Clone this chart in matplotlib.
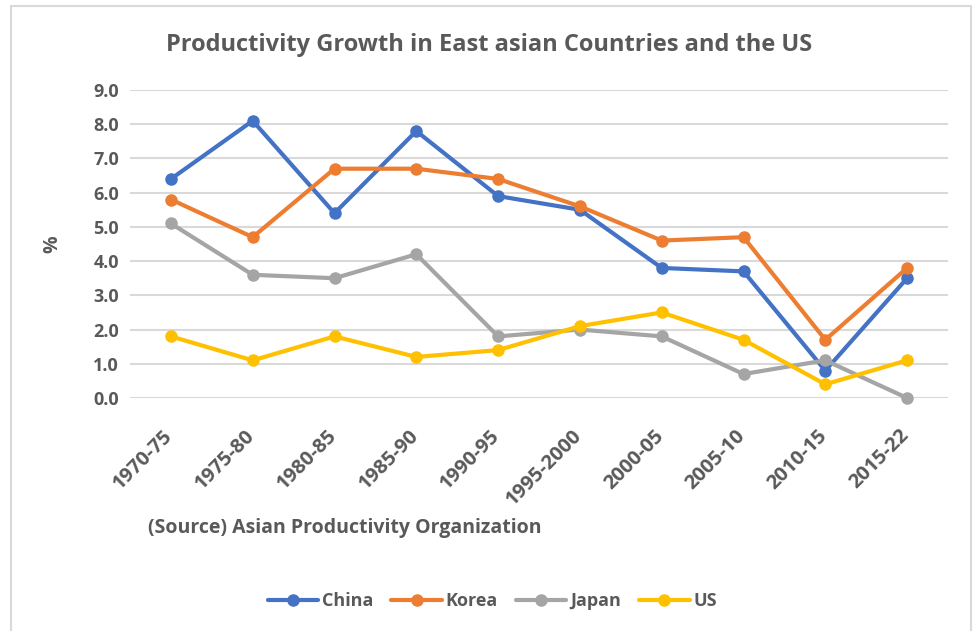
import matplotlib.pyplot as plt
import matplotlib.transforms as mtransforms
from matplotlib.patches import Rectangle

periods = ['1970-75', '1975-80', '1980-85', '1985-90', '1990-95',
           '1995-2000', '2000-05', '2005-10', '2010-15', '2015-22']
china = [6.4, 8.1, 5.4, 7.8, 5.9, 5.5, 3.8, 3.7, 0.8, 3.5]
korea = [5.8, 4.7, 6.7, 6.7, 6.4, 5.6, 4.6, 4.7, 1.7, 3.8]
japan = [5.1, 3.6, 3.5, 4.2, 1.8, 2.0, 1.8, 0.7, 1.1, 0.0]
us    = [1.8, 1.1, 1.8, 1.2, 1.4, 2.1, 2.5, 1.7, 0.4, 1.1]
yticks = [0, 1, 2, 3, 4, 5, 6, 7, 8, 9]

plt.rcParams['font.family'] = ['Open Sans', 'DejaVu Sans']
txt = '#595959'

fig = plt.figure(figsize=(9.73, 6.31), dpi=100)
# light frame round the chart area
fig.patches.append(Rectangle((11/973, -0.01), 960/973, 1 - 6/631 + 0.01,
                             transform=fig.transFigure, fill=False,
                             edgecolor='#D9D9D9', linewidth=1.5))
ax = fig.add_axes([130/973, 1 - 398/631, 818/973, 308/631])

series = [('China', china, '#4472C4'), ('Korea', korea, '#ED7D31'),
          ('Japan', japan, '#A5A5A5'), ('US', us, '#FFC000')]
x = range(len(periods))
for name, vals, col in series:
    ax.plot(x, vals, color=col, lw=3, marker='o', ms=8, label=name,
            solid_capstyle='round', clip_on=False, zorder=3)

ax.set_xlim(-0.5, len(periods) - 0.5)
ax.set_ylim(0, 9)
ax.set_yticks(yticks)
ax.set_yticklabels([f'{v:.1f}' for v in yticks])
ax.set_xticks(list(x))
ax.set_xticklabels(periods, rotation=45, ha='right', va='center',
                   rotation_mode='anchor')
ax.tick_params(length=0, labelsize=13, labelcolor=txt)
ax.tick_params(axis='y', pad=8)
ax.tick_params(axis='x', pad=25, labelsize=14.5)
shift = mtransforms.ScaledTranslation(-1/100, 0, fig.dpi_scale_trans)
for lab in ax.get_xticklabels():
    lab.set_transform(lab.get_transform() + shift)
for lab in ax.get_xticklabels() + ax.get_yticklabels():
    lab.set_fontweight('bold')
ax.yaxis.grid(True, color='#D9D9D9', lw=1.5)
ax.set_axisbelow(True)
for s in ax.spines.values():
    s.set_visible(False)

ax.set_ylabel('%', fontsize=14, fontweight='bold', color=txt, labelpad=22)

fig.text(0.503, 1 - 45/631, 'Productivity Growth in East asian Countries and the US',
         ha='center', va='center', fontsize=17, fontweight='bold', color=txt)
fig.text(148/973, 1 - 528/631, '(Source) Asian Productivity Organization',
         ha='left', va='center', fontsize=14, fontweight='bold', color=txt)

fig.legend(loc='center', bbox_to_anchor=(0.506, 1 - 601/631), ncol=4,
           frameon=False, handlelength=2.8, columnspacing=1.0, handletextpad=0.2,
           prop={'weight': 'bold', 'size': 13}, labelcolor=txt)

fig.savefig('out.png', dpi=100)
